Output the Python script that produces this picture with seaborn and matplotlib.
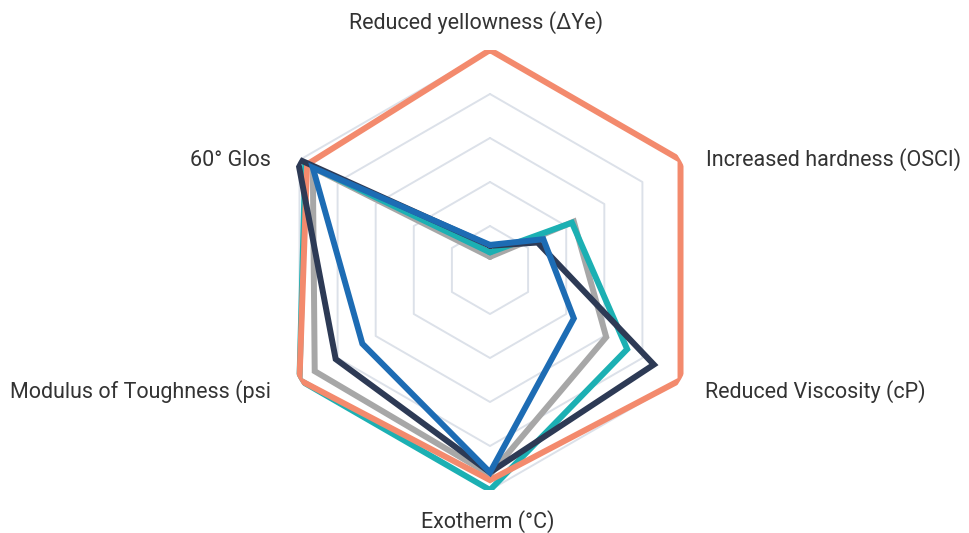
import numpy as np
import pandas as pd
import matplotlib
matplotlib.use("Agg")
import matplotlib.pyplot as plt
import seaborn as sns
from matplotlib.transforms import Bbox, TransformedBbox

categories = ["Reduced yellowness (ΔYe)", "Increased hardness (OSCI)", "Reduced Viscosity (cP)",
              "Exotherm (°C)", "Modulus of Toughness (psi)", "60° Gloss"]
series_names = ["Gray", "Teal", "Orange", "Navy", "Blue"]
gray_vals = [0.06, 0.44, 0.61, 0.93, 0.92, 0.93]
teal_vals = [0.08, 0.43, 0.72, 1.00, 1.00, 0.97]
orange_vals = [1.00, 1.00, 1.00, 0.955, 1.00, 0.96]
navy_vals = [0.11, 0.25, 0.86, 0.92, 0.81, 1.01]
blue_vals = [0.114, 0.28, 0.44, 0.92, 0.67, 0.93]
ring_levels = [0.2, 0.4, 0.6, 0.8, 1.0]

colors = {"Gray": "#A7A7A7", "Teal": "#1CB0B3", "Orange": "#F38A6D",
          "Navy": "#2D3A55", "Blue": "#1D6CB4"}

n = len(categories)
angles = np.linspace(0, 2 * np.pi, n, endpoint=False)
theta_closed = np.append(angles, angles[0])

rows = []
for name, vals in zip(series_names, [gray_vals, teal_vals, orange_vals, navy_vals, blue_vals]):
    for k, (t, v) in enumerate(zip(theta_closed, vals + vals[:1])):
        rows.append({"series": name, "theta": t, "value": v, "order": k})
df = pd.DataFrame(rows)

sns.set_style("white")
plt.rcParams['font.family'] = ['Roboto', 'DejaVu Sans']

fig = plt.figure(figsize=(9.69, 5.33), dpi=100)
ax = fig.add_axes([270 / 969, (533 - 490) / 533, 440 / 969, 440 / 533], projection="polar")
ax.set_theta_offset(np.pi / 2)
ax.set_theta_direction(-1)

for lv in ring_levels:
    ax.plot(theta_closed, [lv] * (n + 1), color="#DCE1E9", lw=1.4, zorder=1)

sns.lineplot(data=df, x="theta", y="value", hue="series", hue_order=series_names,
             palette=colors, sort=False, estimator=None, units="series",
             linewidth=4.3, ax=ax, legend=False, zorder=3)
for line in ax.lines[len(ring_levels):]:
    line.set_solid_joinstyle("miter")

ax.set_ylim(0, 1.0)
ax.set_xticks([])
ax.set_yticks([])
ax.grid(False)
ax.spines["polar"].set_visible(False)
ax.set_xlabel("")
ax.set_ylabel("")
ax.patch.set_alpha(0)

tc = "#333333"
fs = 15.5
W, H = 969, 533
fig.text(476 / W, 1 - 23 / H, categories[0], ha="center", va="center", fontsize=fs, color=tc)
fig.text(706 / W, 1 - 160 / H, categories[1], ha="left", va="center", fontsize=fs, color=tc)
fig.text(705 / W, 1 - 392 / H, categories[2], ha="left", va="center", fontsize=fs, color=tc)
fig.text(488 / W, 1 - 522 / H, categories[3], ha="center", va="center", fontsize=fs, color=tc)
t4 = fig.text(10 / W, 1 - 392 / H, categories[4], ha="left", va="center", fontsize=fs, color=tc)
t5 = fig.text(190 / W, 1 - 160 / H, categories[5], ha="left", va="center", fontsize=fs, color=tc)
clip = TransformedBbox(Bbox([[0, 0], [270 / W, 1]]), fig.transFigure)
for t in (t4, t5):
    t.set_clip_box(clip)
    t.set_clip_on(True)

fig.savefig("out.png", dpi=100)
